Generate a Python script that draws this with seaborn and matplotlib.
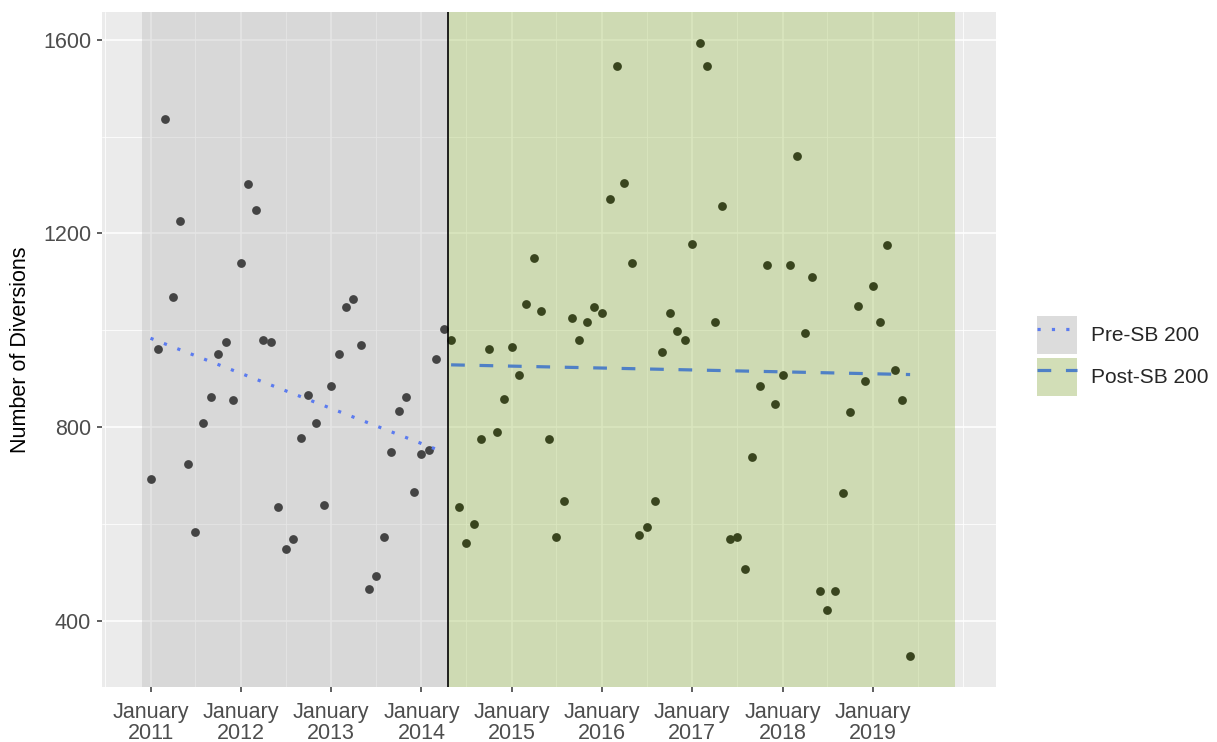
import numpy as np
import pandas as pd
import matplotlib
matplotlib.use('Agg')
import matplotlib.pyplot as plt
import matplotlib.dates as mdates
from matplotlib.patches import Patch
from matplotlib.lines import Line2D
import seaborn as sns

# monthly diversions
pre_values = [693, 962, 1436, 1069, 1226, 723, 583, 808, 862, 950, 976, 856,
              1138, 1303, 1248, 979, 975, 635, 547, 569, 778, 866, 808, 639,
              884, 950, 1047, 1065, 969, 466, 491, 573, 748, 833, 862, 665,
              745, 753, 940, 1003]
post_values = [980, 634, 561, 599, 775, 962, 789, 858,
               966, 907, 1054, 1149, 1039, 775, 573, 646, 1025, 980, 1017, 1047,
               1036, 1270, 1546, 1304, 1138, 576, 594, 646, 955, 1036, 999, 980,
               1179, 1594, 1546, 1017, 1256, 569, 572, 507, 738, 884, 1135, 848,
               907, 1135, 1359, 995, 1109, 462, 421, 462, 664, 830, 1050, 895,
               1091, 1017, 1175, 918, 855, 326]
pre_start = '2011-01-01'
post_start = '2014-05-01'
law_date = '2014-04-18'
shade_start = '2010-11-29'
shade_end = '2019-12-01'
tick_years = [2011, 2012, 2013, 2014, 2015, 2016, 2017, 2018, 2019]
y_ticks = [400, 800, 1200, 1600]
period_labels = ['Pre-SB 200', 'Post-SB 200']

pre_dates = pd.date_range(pre_start, periods=len(pre_values), freq='MS')
post_dates = pd.date_range(post_start, periods=len(post_values), freq='MS')
df = pd.DataFrame({
    'month': list(pre_dates) + list(post_dates),
    'diversions': pre_values + post_values,
    'period': [period_labels[0]] * len(pre_values) + [period_labels[1]] * len(post_values),
})

# linear trend per period (like geom_smooth(method='lm'))
fits = []
for lab in period_labels:
    d = df[df.period == lab]
    xn = mdates.date2num(d.month)
    c = np.polyfit(xn, d.diversions, 1)
    fits.append(pd.DataFrame({'month': d.month, 'fit': np.polyval(c, xn)}))

pre_col = '#5B7BEF'
post_col = '#4F80C6'
grey_fill = '#BABABA'
green_fill = '#9DBD54'
pre_ls = (0, (1, 3.5))
post_ls = (0, (4.3, 4.6))

sns.set_theme(style='darkgrid', rc={'axes.facecolor': '#EBEBEB', 'grid.color': 'white',
                                    'figure.facecolor': 'white'})
plt.rcParams['font.family'] = ['Liberation Sans', 'DejaVu Sans']

fig = plt.figure(figsize=(12.17, 7.42), dpi=100)
ax = fig.add_axes([101.7 / 1217, 55 / 742, 894.3 / 1217, 675 / 742])

sns.scatterplot(data=df, x='month', y='diversions', color='black', s=40, linewidth=0,
                ax=ax, legend=False, zorder=2)

ax.axvspan(pd.Timestamp(shade_start), pd.Timestamp(law_date), color=grey_fill, alpha=0.37, lw=0, zorder=3)
ax.axvspan(pd.Timestamp(law_date), pd.Timestamp(shade_end), color=green_fill, alpha=0.37, lw=0, zorder=3)

sns.lineplot(data=fits[0], x='month', y='fit', color=pre_col, linewidth=2.3, linestyle=pre_ls,
             estimator=None, ax=ax, zorder=4)
sns.lineplot(data=fits[1], x='month', y='fit', color=post_col, linewidth=2.3, linestyle=post_ls,
             estimator=None, ax=ax, zorder=4)
ax.axvline(pd.Timestamp(law_date), color='black', lw=1.2, zorder=5)

# ggplot-like 5% expansion
x0, x1 = mdates.date2num(pd.Timestamp(shade_start)), mdates.date2num(pd.Timestamp(shade_end))
w = x1 - x0
ax.set_xlim(x0 - 0.05 * w, x1 + 0.05 * w)
vals = df.diversions
r = vals.max() - vals.min()
ax.set_ylim(vals.min() - 0.05 * r, vals.max() + 0.05 * r)

ax.set_xticks([pd.Timestamp(f'{y}-01-01') for y in tick_years])
ax.set_xticklabels([f'January\n{y}' for y in tick_years], linespacing=1.0)
minor_x = [pd.Timestamp(f'{y}-07-01') for y in range(2010, 2020)] + [pd.Timestamp('2020-01-01')]
ax.set_xticks(minor_x, minor=True)
ax.set_yticks(y_ticks)
ax.set_yticks([600, 1000, 1400], minor=True)

ax.grid(which='major', color='white', lw=1.1)
ax.grid(which='minor', color='white', lw=0.55)
ax.tick_params(which='major', length=3.6, width=1.1, color='#333333', labelsize=15.5,
               labelcolor='#4D4D4D')
ax.tick_params(axis='x', bottom=True, pad=7.5)
ax.tick_params(axis='y', left=True, pad=4)
ax.tick_params(which='minor', length=0)
for s in ax.spines.values():
    s.set_visible(False)

ax.set_xlabel('')
ax.set_ylabel('Number of Diversions', fontsize=15.5, color='black')
ax.yaxis.set_label_coords(-0.079, 0.5)

handles = [
    (Patch(facecolor='#DCDCDC', edgecolor='none'),
     Line2D([], [], color=pre_col, lw=2.3, linestyle=pre_ls)),
    (Patch(facecolor='#D2DEB7', edgecolor='none'),
     Line2D([], [], color=post_col, lw=2.3, linestyle=post_ls)),
]
fig.legend(handles, period_labels, loc='center left', bbox_to_anchor=(1037 / 1217, 1 - 356 / 742),
           frameon=False, fontsize=15, handlelength=1.92, handleheight=2.48,
           labelspacing=0.15, handletextpad=0.67, borderpad=0, borderaxespad=0)

fig.savefig('out.png', dpi=100)
plt.close(fig)
